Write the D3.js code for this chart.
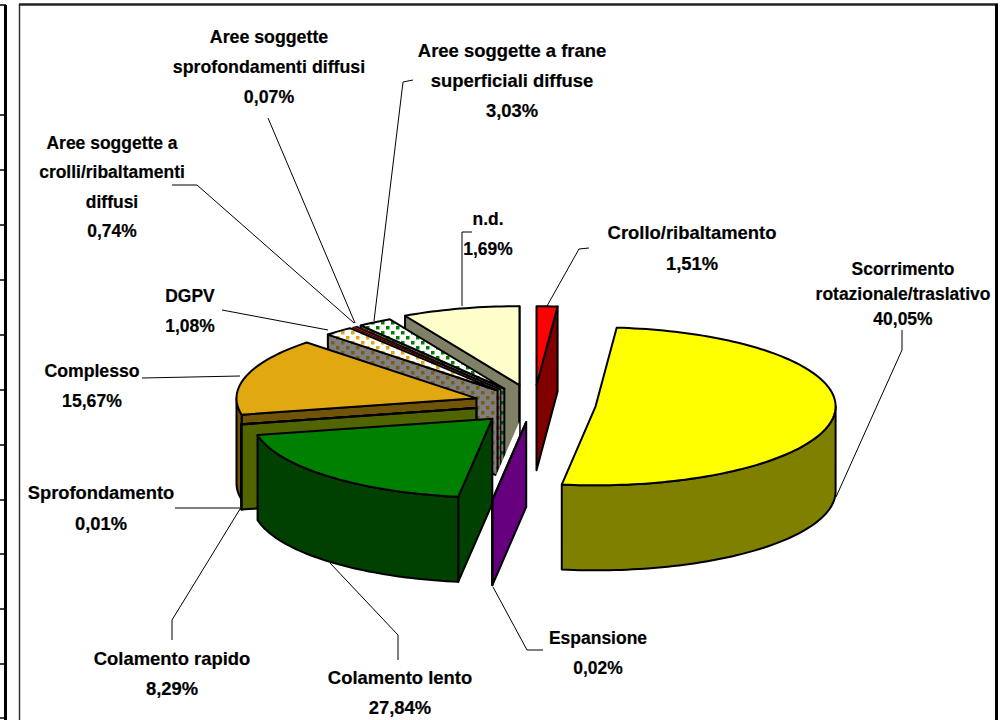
<!DOCTYPE html>
<html>
<head>
<meta charset="utf-8">
<script src="https://cdn.jsdelivr.net/npm/d3@7"></script>
<style>
  html, body { margin: 0; padding: 0; background: #fff; }
  svg { display: block; }
  text { font-family: "Liberation Sans", Arial, sans-serif; font-weight: bold; font-size: 19px; fill: #000; stroke: #000; stroke-width: 0.2px; text-anchor: middle; }
</style>
</head>
<body>
<svg id="chart" width="1001" height="720"></svg>
<script>
// clockwise from the top of the pie
const categories = ["Crollo/ribaltamento", "Scorrimento rotazionale/traslativo", "Espansione", "Colamento lento",
    "Colamento rapido", "Sprofondamento", "Complesso", "DGPV", "Aree soggette a crolli/ribaltamenti diffusi",
    "Aree soggette sprofondamenti diffusi", "Aree soggette a frane superficiali diffuse", "n.d."];
// percentages printed on the labels
const printedValues = ["1,51%", "40,05%", "0,02%", "27,84%", "8,29%", "0,01%", "15,67%", "1,08%", "0,74%", "0,07%", "3,03%", "1,69%"];
// share of the circle each slice really takes in the picture (it does not follow the printed numbers)
const drawnShares = [1.4, 50.85, 0.02, 19.4, 0.02, 0.01, 15.8, 1.95, 0.22, 0.12, 2.3, 7.91];
const explosion = [57, 62, 55, 61, 59, 59, 60, 55, 55, 55, 55, 59];

const topFills = ["#ff0000", "#ffff00", "#cc00ff", "#008000", "#99cc00", "#99cc00", "#e1a90f", "url(#dgpvTop)", "#ff0000", "#555", "url(#franeTop)", "#ffffcc"];
const sideFills = ["#800000", "#808000", "#66007f", "#004000", "#506400", "#506400", "#705408", "url(#dgpvSide)", "url(#crolliSide)", "#333", "url(#franeSide)", "#808066"];

// label lines, centres and leaders are layout, kept apart from the values
const labelLines = [["Crollo/ribaltamento"], ["Scorrimento", "rotazionale/traslativo"], ["Espansione"], ["Colamento lento"],
    ["Colamento rapido"], ["Sprofondamento"], ["Complesso"], ["DGPV"], ["Aree soggette a", "crolli/ribaltamenti", "diffusi"],
    ["Aree soggette", "sprofondamenti diffusi"], ["Aree soggette a frane", "superficiali diffuse"], ["n.d."]];
const labelX = [692, 903, 598, 400, 172, 101, 92, 190, 112, 269, 512, 488];
const labelTop = [232, 268, 637, 677, 658, 492, 370, 295, 142, 36, 50, 218];
const lineGap = [31, 25, 30, 30, 30, 31, 30, 30, 29.5, 30, 30, 30];
const labelSqueeze = [0.97, 0.92, 0.92, 0.97, 0.97, 0.965, 0.93, 0.92, 0.92, 0.935, 0.97, 0.92];
const leaders = [
    [[589, 248], [579, 249], [547, 306]],
    [[902, 330], [902, 350], [836, 497]],
    [[543, 650], [527, 650], [493, 587]],
    [[398, 660], [398, 635], [330, 563]],
    [[172, 640], [172, 620], [240, 509]],
    [[175, 508], [240, 508]],
    [[142, 378], [240, 376]],
    [[222, 310], [328, 330]],
    [[172, 185], [197, 185], [354, 323]],
    [[268, 118], [355, 323]],
    [[413, 80], [403, 82], [374, 321]],
    [[472, 232], [462, 232], [462, 306]]
];
const tableRows = [5, 115, 170, 225, 280, 335, 390, 445, 500, 554, 609, 664, 718];

const svg = d3.select("#chart");
const cx = 534, cy = 404, rx = 240, ry = 79, depth = 85;
const sx = d3.scaleLinear().domain([-1, 1]).range([-rx, rx]);
const sy = d3.scaleLinear().domain([-1, 1]).range([-ry, ry]);
const lineGen = d3.line();

// dotted Excel fills
const defs = svg.append("defs");
function dotted(id, bg, dot) {
    const p = defs.append("pattern").attr("id", id).attr("patternUnits", "userSpaceOnUse")
        .attr("width", 10).attr("height", 10);
    p.append("rect").attr("width", 10).attr("height", 10).attr("fill", bg);
    p.append("rect").attr("x", 1).attr("y", 1).attr("width", 3.5).attr("height", 3.5).attr("fill", dot);
    p.append("rect").attr("x", 6).attr("y", 6).attr("width", 3.5).attr("height", 3.5).attr("fill", dot);
}
dotted("dgpvTop", "#fff", "#e1a90f");
dotted("dgpvSide", "#808080", "#7a5c14");
dotted("crolliSide", "#777", "#a01010");
dotted("franeTop", "#fff", "#008000");
dotted("franeSide", "#808080", "#006000");

// left table fragment and chart frame
svg.append("line").attr("x1", 5.5).attr("x2", 5.5).attr("y1", 5).attr("y2", 720).attr("stroke", "#000").attr("stroke-width", 3);
svg.selectAll("line.row").data(tableRows).enter().append("line").attr("class", "row")
    .attr("x1", 0).attr("x2", 6).attr("y1", d => d).attr("y2", d => d).attr("stroke", "#000").attr("stroke-width", 1.5);
svg.append("line").attr("x1", 19.5).attr("x2", 19.5).attr("y1", 4).attr("y2", 720).attr("stroke", "#333").attr("stroke-width", 1.5);
svg.append("line").attr("x1", 19).attr("x2", 998).attr("y1", 4.5).attr("y2", 4.5).attr("stroke", "#222").attr("stroke-width", 2.5);
svg.append("line").attr("x1", 996.5).attr("x2", 996.5).attr("y1", 4).attr("y2", 720).attr("stroke", "#000").attr("stroke-width", 3);

const pie = d3.pie().sort(null).startAngle(0).endAngle(2 * Math.PI);
const slices = pie(drawnShares).map((d, i) => {
    const mid = (d.startAngle + d.endAngle) / 2;
    return {
        i: i,
        a0: d.startAngle,
        a1: d.endAngle,
        mid: mid,
        ox: cx + sx(Math.sin(mid) * explosion[i] / rx),
        oy: cy - sy(Math.cos(mid) * explosion[i] / rx)
    };
});

function rim(s, a0, a1, dy) {
    const n = Math.max(2, Math.ceil((a1 - a0) * 40));
    return d3.range(n + 1).map(k => {
        const a = a0 + (a1 - a0) * k / n;
        return [s.ox + sx(Math.sin(a)), s.oy - sy(Math.cos(a)) + dy];
    });
}

function facePath(s, a) {
    const outer = rim(s, a, a, 0)[0];
    return lineGen([[s.ox, s.oy], outer, [outer[0], outer[1] + depth], [s.ox, s.oy + depth]]) + "Z";
}

// back slices first, so the front ones cover them
const order = slices.slice().sort((a, b) => d3.descending(Math.abs(a.mid - Math.PI), Math.abs(b.mid - Math.PI)));
const g = svg.append("g").attr("stroke", "#000").attr("stroke-width", 2).attr("stroke-linejoin", "round");

order.forEach(s => {
    // the white gap left of the Espansione face, it bites into the n.d. wall
    if (s.i === 3) {
        g.append("path").attr("d", facePath(slices[2], slices[2].a0))
            .attr("transform", "translate(-7,0)").attr("fill", "#fff").attr("stroke", "none");
    }

    const sg = g.append("g").attr("class", "slice");
    const thin = s.i === 8 || s.i === 9;

    // cut face on the radial edge that turns towards the viewer
    [[s.a0, Math.sin(s.a0) < 0], [s.a1, Math.sin(s.a1) > 0]].forEach(([a, visible]) => {
        if (!visible) return;
        sg.append("path").attr("d", facePath(s, a)).attr("fill", sideFills[s.i])
            .attr("stroke-width", thin ? 0.8 : 2);
    });

    // outer wall, only the front half of the ellipse
    const w0 = Math.max(s.a0, Math.PI / 2), w1 = Math.min(s.a1, 3 * Math.PI / 2);
    if (w1 > w0) {
        const upper = rim(s, w0, w1, 0);
        const lower = rim(s, w0, w1, depth).reverse();
        sg.append("path").attr("d", lineGen(upper.concat(lower)) + "Z").attr("fill", sideFills[s.i]);
    }

    sg.append("path")
        .attr("d", lineGen([[s.ox, s.oy]].concat(rim(s, s.a0, s.a1, 0))) + "Z")
        .attr("fill", topFills[s.i])
        .attr("stroke-width", thin ? 0.8 : 2);
});

// leaders
svg.selectAll("path.leader").data(leaders).enter().append("path").attr("class", "leader")
    .attr("d", d => lineGen(d)).attr("fill", "none").attr("stroke", "#000").attr("stroke-width", 1);

// labels are narrow and tall in the picture, so squeeze them
categories.forEach((c, i) => {
    const lines = labelLines[i].concat([printedValues[i]]);
    const t = svg.append("g").attr("transform", `translate(${labelX[i]},0) scale(${labelSqueeze[i]},1)`);
    lines.forEach((txt, k) => {
        t.append("text").attr("x", 0).attr("y", labelTop[i] + k * lineGap[i]).attr("dy", "0.35em").text(txt);
    });
});
</script>
</body>
</html>
